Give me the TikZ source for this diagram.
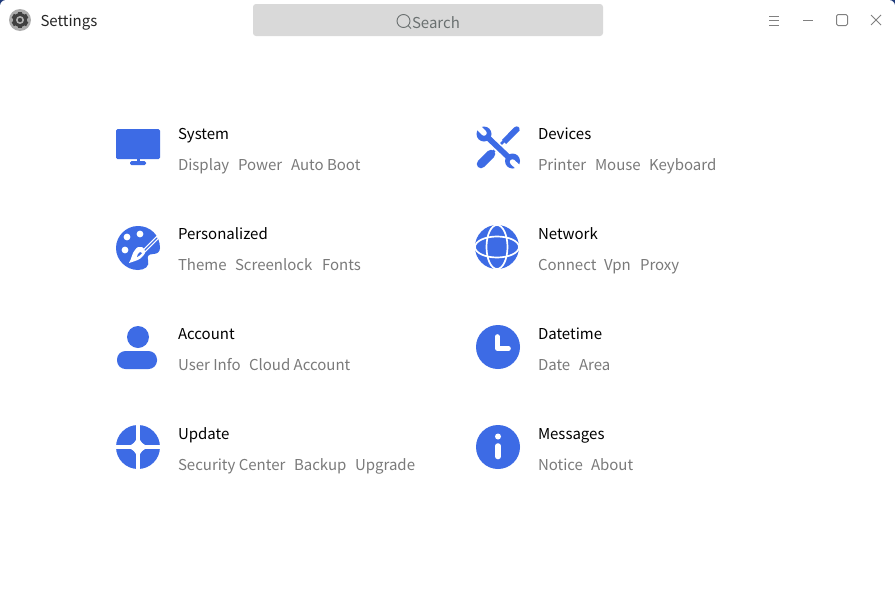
\documentclass[tikz,border=0pt]{standalone}
\usepackage{fontspec}
\setmainfont{Noto Sans CJK SC}
\definecolor{iconblue}{HTML}{3D6BE5}
\definecolor{subgray}{HTML}{7A7A7A}
\definecolor{searchbg}{HTML}{D9D9D9}
\definecolor{searchfg}{HTML}{6A7070}
\definecolor{btn}{HTML}{808080}
\definecolor{corner}{HTML}{1F3A7A}
\tikzset{
  x=1pt,y=-1pt,
  lbl/.style={inner sep=0pt,outer sep=0pt,anchor=base west,font=\fontsize{15}{18}\selectfont},
  head/.style={lbl,text=black},
  sub/.style={lbl,text=subgray},
  ic/.style={fill=iconblue,draw=none},
  wht/.style={fill=white,draw=none},
  wline/.style={draw=white,line cap=round,line join=round},
  bline/.style={draw=iconblue,line cap=round,line join=round},
  winbtn/.style={draw=btn,line width=1pt},
}
\begin{document}
\begin{tikzpicture}
\useasboundingbox (0,0) rectangle (895,600);
% window with wallpaper in the top corners
\fill[corner] (0,0) rectangle (895,20);
\fill[white,rounded corners=6pt] (0,0) rectangle (895,620);
% app icon
\fill[gray!65] (20,20) circle (11);
\foreach \a in {0,60,...,300}{\fill[black!75,rotate around={\a:(20,20)}] (17.8,11.8) rectangle (22.2,28.2);}
\fill[black!75] (20,20) circle (7);
\fill[gray!60] (20,20) circle (4);
\fill[black!75] (20,20) circle (2.2);
\node[lbl,text=black!85] (apptitle) at (40.5,26) {Settings};
% search box
\fill[searchbg,rounded corners=3pt] (253,4) rectangle (603,36);
\draw[searchfg,line width=0.9pt] (403.5,21) circle (6.5) (408.2,25.7) -- (411,28.5);
\node[lbl,text=searchfg] (search) at (412,28.3) {Search};
% window buttons
\draw[winbtn] (769,16) -- (779,16) (769,20.5) -- (779,20.5) (769,25) -- (779,25);
\draw[winbtn] (803,20.5) -- (813,20.5);
\draw[winbtn,rounded corners=1.5pt] (836.5,14.5) rectangle (847.5,25.5);
\draw[winbtn] (871,15) -- (881,25) (881,15) -- (871,25);
% System
\fill[ic,rounded corners=1.5pt] (116,129) rectangle (160,159);
\fill[ic] (137,159) rectangle (139.5,162);
\fill[ic,rounded corners=1.5pt] (130,161) rectangle (146,165);
% Personalized
\fill[ic] (138,226) .. controls (150,226) and (160,235) .. (160,248)
  .. controls (160,252) and (157,254) .. (153,254)
  .. controls (148,254) and (147,257) .. (148,260)
  .. controls (150,266) and (145,270) .. (138,270)
  .. controls (126,270) and (116,260) .. (116,248)
  .. controls (116,236) and (126,226) .. (138,226) -- cycle;
\fill[wht] (127,237) circle (3.4) (140,234) circle (3.4) (125,250) circle (3.4);
\draw[white,line width=3.6pt,line cap=round] (160,235) -- (143,252);
\draw[iconblue,line width=1.3pt,line cap=round] (157,238) -- (144,251);
\fill[wht] (142,247) .. controls (146,250) and (146,253) .. (143,256)
  .. controls (140,260) and (135,261) .. (129,263)
  .. controls (132,258) and (132,253) .. (135,250)
  .. controls (137,247) and (139,246) .. (142,247) -- cycle;
\fill[ic] (140,252) .. controls (138,254) and (137,255) .. (137,257) .. controls (139,256) and (141,255) .. (142,253) -- cycle;
% Account
\fill[ic] (138,337) circle (11);
\fill[ic,rounded corners=8.5pt] (117,351) rectangle (157,369);
% Update
\fill[ic] (138,447) circle (22);
\draw[white,line width=4pt] (138,423) -- (138,471) (114,447) -- (162,447);
\fill[wht] (138,434) .. controls (138.5,441) and (144,446.5) .. (151,447)
  .. controls (144,447.5) and (138.5,453) .. (138,460)
  .. controls (137.5,453) and (132,447.5) .. (125,447)
  .. controls (132,446.5) and (137.5,441) .. (138,434) -- cycle;
% Devices: screwdriver
\draw[bline,line width=8.5pt] (481,164) -- (491,154);
\draw[bline,line width=2.6pt] (491,154) -- (504,141);
\fill[ic] (502,140) -- (514,127.5) .. controls (517,125) and (520.5,127) .. (519.5,130.5) -- (506,144) -- cycle;
% Devices: wrench
\draw[white,line width=9pt] (487,137) -- (509,158);
\draw[iconblue,line width=5.6pt] (484,134) -- (512,160.5);
\fill[ic] (484,134) circle (7.5) (512.5,161) circle (7.5);
\draw[white,line width=5.5pt,line cap=round] (484,133) -- (475,124);
\draw[white,line width=5.5pt,line cap=round] (512.5,162) -- (522,171);
% Network
\fill[ic] (497,247) circle (22);
\draw[white,line width=1.7pt] (497,247) ellipse (10.5 and 22) (497,247) ellipse (22 and 10.5);
% Datetime
\fill[ic] (498,347) circle (22);
\draw[wline,line width=4.6pt] (497.3,336.5) -- (497.3,348.5) -- (508.5,348.5);
% Messages
\fill[ic] (498,447) circle (22);
\fill[wht] (498,436.5) circle (3);
\draw[wline,line width=5.6pt] (498,446) -- (498,456.5);
% Labels
\node[head] (hsystem) at (178,139) {System};
\node[sub] (s1) at (178,170) {Display};
\node[sub] (s2) at (238,170) {Power};
\node[sub] (s3) at (291,170) {Auto Boot};
\node[head] (hpers) at (178,239) {Personalized};
\node[sub] (p1) at (178,270) {Theme};
\node[sub] (p2) at (235,270) {Screenlock};
\node[sub] (p3) at (322,270) {Fonts};
\node[head] (hacc) at (178,339) {Account};
\node[sub] (a1) at (178,370) {User Info};
\node[sub] (a2) at (249,370) {Cloud Account};
\node[head] (hupd) at (178,439) {Update};
\node[sub] (u1) at (178,470) {Security Center};
\node[sub] (u2) at (294,470) {Backup};
\node[sub] (u3) at (355,470) {Upgrade};
\node[head] (hdev) at (538,139) {Devices};
\node[sub] (d1) at (538,170) {Printer};
\node[sub] (d2) at (595,170) {Mouse};
\node[sub] (d3) at (649,170) {Keyboard};
\node[head] (hnet) at (538,239) {Network};
\node[sub] (n1) at (538,270) {Connect};
\node[sub] (n2) at (604,270) {Vpn};
\node[sub] (n3) at (640,270) {Proxy};
\node[head] (hdt) at (538,339) {Datetime};
\node[sub] (t1) at (538,370) {Date};
\node[sub] (t2) at (579,370) {Area};
\node[head] (hmsg) at (538,439) {Messages};
\node[sub] (m1) at (538,470) {Notice};
\node[sub] (m2) at (591,470) {About};
\end{tikzpicture}
\end{document}
